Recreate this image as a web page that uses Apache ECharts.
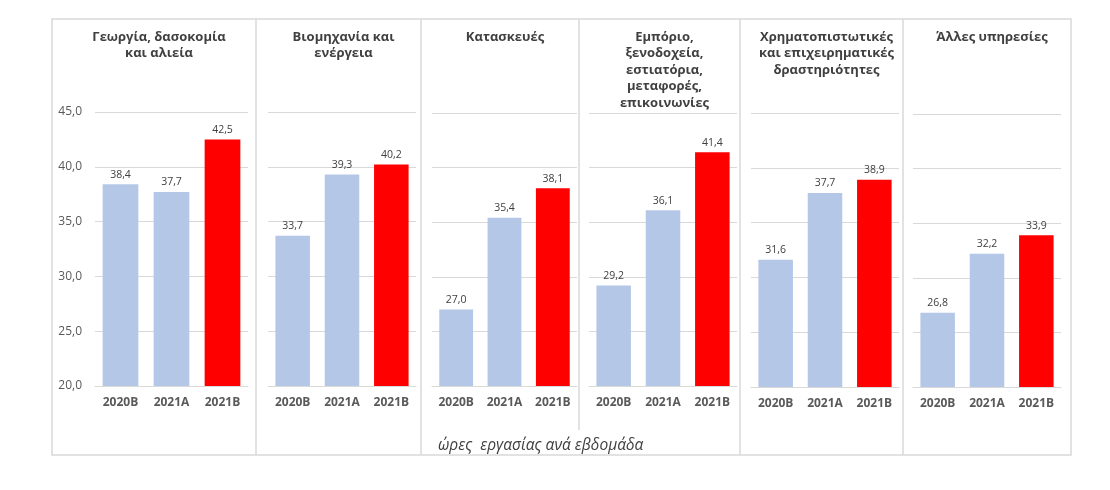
<!DOCTYPE html>
<html>
<head>
<meta charset="utf-8">
<script src="https://cdn.jsdelivr.net/npm/echarts@6/dist/echarts.min.js"></script>
<style>
  html, body { margin: 0; padding: 0; background: #fff; }
  #hoursDiv { width: 1110px; height: 490px; }
</style>
</head>
<body>
<div id="hoursDiv"></div>
<script type="text/javascript">
  // quarters shown in each panel
  var quarters = ['2020B', '2021A', '2021B'];
  // sector names (panel headings)
  var sectors = [
    'Γεωργία, δασοκομία\nκαι αλιεία',
    'Βιομηχανία και\nενέργεια',
    'Κατασκευές',
    'Εμπόριο,\nξενοδοχεία,\nεστιατόρια,\nμεταφορές,\nεπικοινωνίες',
    'Χρηματοπιστωτικές\nκαι επιχειρηματικές\nδραστηριότητες',
    'Άλλες υπηρεσίες'
  ];
  // hours per week, one value per sector
  var hours2020B = [38.4, 33.7, 27.0, 29.2, 31.6, 26.8];
  var hours2021A = [37.7, 39.3, 35.4, 36.1, 37.7, 32.2];
  var hours2021B = [42.5, 40.2, 38.1, 41.4, 38.9, 33.9];
  // value axis ticks
  var yTicks = [20, 25, 30, 35, 40, 45];
  var axisCaption = 'ώρες  εργασίας ανά εβδομάδα';

  // layout of the six panels (pixels)
  var panelEdges = [52, 256, 421, 579, 740, 903, 1071];
  var gridLefts = [95, 268, 432, 589, 751, 913];
  var gridWidths = [153, 148, 145, 148, 148, 148];
  var gridTops = [112, 112, 113, 113, 113, 114];
  var gridBottoms = [104, 104, 104, 104, 103, 103];
  var barColors = ['#B4C7E7', '#B4C7E7', '#FF0000'];

  var font = '"Open Sans", "Noto Sans", sans-serif';

  function fmt(v) {
    return v.toFixed(1).replace('.', ',');
  }

  var grids = [], xAxes = [], yAxes = [], series = [], titles = [];
  for (var i = 0; i < sectors.length; i++) {
    grids.push({
      left: gridLefts[i],
      width: gridWidths[i],
      top: gridTops[i],
      bottom: gridBottoms[i]
    });
    xAxes.push({
      type: 'category',
      gridIndex: i,
      data: quarters,
      axisLine: { show: true, lineStyle: { color: '#d9d9d9', width: 1 } },
      axisTick: { show: false },
      axisLabel: {
        margin: 11,
        fontFamily: font,
        fontSize: 12,
        fontWeight: 'bold',
        color: '#595959'
      }
    });
    yAxes.push({
      type: 'value',
      gridIndex: i,
      min: yTicks[0],
      max: yTicks[yTicks.length - 1],
      interval: yTicks[1] - yTicks[0],
      axisLine: { show: false },
      axisTick: { show: false },
      axisLabel: {
        show: i === 0,
        margin: 13,
        fontFamily: font,
        fontSize: 12,
        color: '#595959',
        formatter: function (v) { return fmt(v); }
      },
      splitLine: { lineStyle: { color: '#d9d9d9', width: 1 } }
    });
    var values = [hours2020B[i], hours2021A[i], hours2021B[i]];
    series.push({
      type: 'bar',
      xAxisIndex: i,
      yAxisIndex: i,
      barWidth: '70%',
      data: values.map(function (v, k) {
        return { value: v, itemStyle: { color: barColors[k] } };
      }),
      label: {
        show: true,
        position: 'top',
        distance: 4,
        fontFamily: font,
        fontSize: 10.5,
        color: '#404040',
        formatter: function (p) { return fmt(p.value); }
      }
    });
    titles.push({
      text: sectors[i],
      left: (panelEdges[i] + panelEdges[i + 1]) / 2,
      top: 24,
      textAlign: 'center',
      textStyle: {
        fontFamily: font,
        fontSize: 13,
        fontWeight: 'bold',
        lineHeight: 16.5,
        color: '#404040'
      }
    });
  }

  // panel frames
  var frames = [{
    type: 'rect',
    shape: { x: panelEdges[0], y: 19, width: panelEdges[6] - panelEdges[0], height: 436 },
    style: { fill: 'none', stroke: '#d9d9d9', lineWidth: 1.5 },
    silent: true
  }];
  for (var j = 1; j < panelEdges.length - 1; j++) {
    frames.push({
      type: 'line',
      shape: { x1: panelEdges[j], y1: 19, x2: panelEdges[j], y2: j === 3 ? 430 : 455 },
      style: { stroke: '#d9d9d9', lineWidth: 1.5 },
      silent: true
    });
  }
  frames.push({
    type: 'text',
    x: 438,
    y: 446,
    style: {
      text: axisCaption,
      fontFamily: font,
      fontSize: 15.5,
      fontStyle: 'italic',
      fill: '#404040',
      textVerticalAlign: 'middle'
    },
    silent: true
  });

  var myChart = echarts.init(document.getElementById('hoursDiv'), null, { renderer: 'canvas' });
  var option = {
    animation: false,
    title: titles,
    grid: grids,
    xAxis: xAxes,
    yAxis: yAxes,
    series: series,
    graphic: { elements: frames }
  };
  myChart.setOption(option);
</script>
</body>
</html>
